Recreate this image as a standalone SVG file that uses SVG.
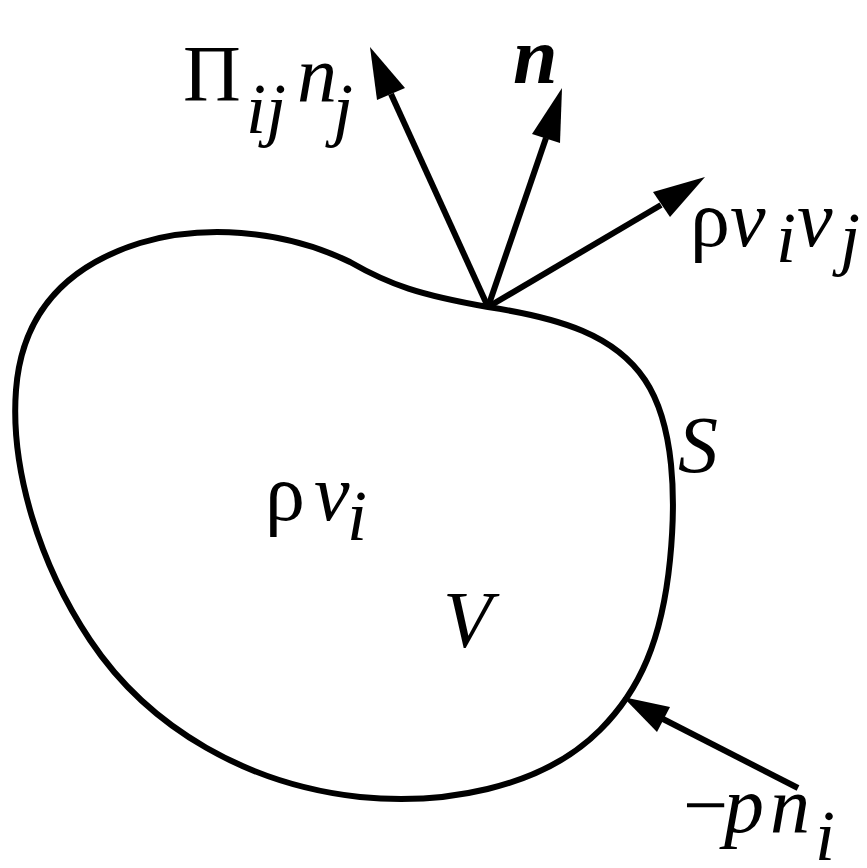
<svg xmlns="http://www.w3.org/2000/svg" width="867" height="868" viewBox="0 0 867 868">
<style>
.ln{stroke:#000;stroke-width:6;fill:none}
.hd{fill:#000;stroke:none}
</style>
<rect width="867" height="868" fill="#fff"/>
<g id="surface">
<path class="ln" d="M 488 307 C 560 318, 615 335, 645 380 C 675 425, 676 500, 670 560 C 662 640, 640 690, 600 730 C 540 790, 440 805, 360 797 C 250 785, 150 730, 90 640 C 40 565, 10 470, 16 390 C 22 310, 70 265, 140 243 C 200 225, 280 228, 350 262 C 390 285, 420 295, 488 307 Z"/>
</g>
<g id="connectors">
<line class="ln" x1="488" y1="307" x2="391" y2="94"/>
<polygon class="hd" points="370,47 377,100 405,88"/>
<line class="ln" x1="488" y1="307" x2="546" y2="138"/>
<polygon class="hd" points="562,88 532,134 560,143"/>
<line class="ln" x1="488" y1="307" x2="661" y2="205"/>
<polygon class="hd" points="705,177 653,192 670,217"/>
<line class="ln" x1="798" y1="788" x2="663" y2="719"/>
<polygon class="hd" points="623,697 670,707 657,732"/>
</g>
<g id="label-pi">
<text x="183" y="101" font-family="Liberation Serif" font-size="80">Π<tspan x="246" y="133" font-size="72" font-style="italic">ij</tspan><tspan x="297" y="101" font-style="italic">n</tspan><tspan x="333" y="133" font-size="72" font-style="italic">j</tspan></text>
</g>
<g id="label-n">
<text x="513" y="83" font-family="Liberation Serif" font-size="80" font-style="italic" font-weight="bold">n</text>
</g>
<g id="label-rvv">
<text x="690" y="246" font-family="Liberation Serif" font-size="80">ρ<tspan x="730" font-style="italic">v</tspan><tspan x="776" y="262" font-size="72" font-style="italic">i</tspan><tspan x="797" y="246" font-style="italic">v</tspan><tspan x="840" y="262" font-size="72" font-style="italic">j</tspan></text>
</g>
<g id="label-rv">
<text x="265" y="520" font-family="Liberation Serif" font-size="80">ρ<tspan x="314" font-style="italic">v</tspan><tspan x="347" y="540" font-size="72" font-style="italic">i</tspan></text>
</g>
<g id="label-S">
<text x="678" y="472" font-family="Liberation Serif" font-size="80" font-style="italic">S</text>
</g>
<g id="label-V">
<text x="443" y="647" font-family="Liberation Serif" font-size="80" font-style="italic">V</text>
</g>
<g id="label-p">
<text x="683" y="832" font-family="Liberation Serif" font-size="80">−<tspan x="724" font-style="italic">p</tspan><tspan x="770" font-style="italic">n</tspan><tspan x="815" y="860" font-size="72" font-style="italic">i</tspan></text>
</g>
</svg>
